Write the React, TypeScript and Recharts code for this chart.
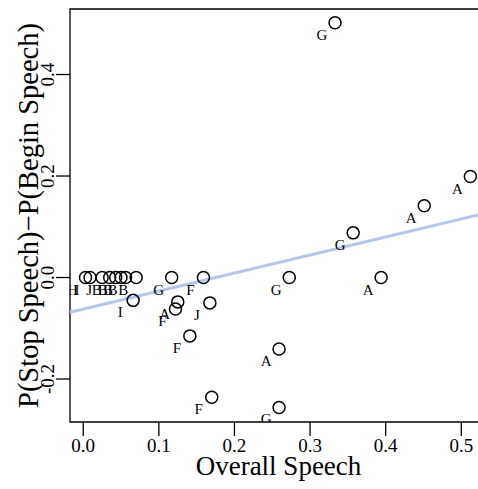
import React from 'react';
import {
  ScatterChart, Scatter, XAxis, YAxis, ReferenceLine, ReferenceArea, Label,
} from 'recharts';

// speaker code for each point
const speakerLabels = [
  'H', 'I', 'J', 'B', 'B', 'B', 'B', 'B',
  'I', 'G', 'F', 'A', 'F', 'J', 'F', 'A', 'F', 'G', 'G', 'A', 'G', 'A', 'A', 'G',
];
// overall proportion of speech
const overallSpeech = [
  0.003, 0.009, 0.025, 0.035, 0.043, 0.05, 0.056, 0.07,
  0.066, 0.117, 0.159, 0.125, 0.122, 0.1675, 0.141, 0.259, 0.17, 0.259, 0.2725, 0.394, 0.357, 0.451, 0.512, 0.333,
];
// P(stop speech) - P(begin speech)
const stopMinusBegin = [
  0, 0, 0, 0, 0, 0, 0, 0,
  -0.045, 0, 0, -0.048, -0.062, -0.05, -0.115, -0.141, -0.236, -0.256, 0, 0, 0.088, 0.1415, 0.199, 0.502,
];

const xTicks = [0, 0.1, 0.2, 0.3, 0.4, 0.5];
const yTicks = [-0.2, 0, 0.2, 0.4];

// least squares line
const fitIntercept = -0.0622;
const fitSlope = 0.355;

const X_DOMAIN: [number, number] = [-0.0175, 0.534];
const Y_DOMAIN: [number, number] = [-0.2847, 0.5291];

const FONT = '"Liberation Serif", "Times New Roman", serif';

const points = overallSpeech.map((x, i) => ({
  x,
  y: stopMinusBegin[i],
  label: speakerLabels[i],
}));

const fitLine = [
  { x: X_DOMAIN[0], y: fitIntercept + fitSlope * X_DOMAIN[0] },
  { x: X_DOMAIN[1], y: fitIntercept + fitSlope * X_DOMAIN[1] },
];

const PointShape = (props: any) => {
  const { cx, cy, payload } = props;
  return (
    <g>
      <circle cx={cx} cy={cy} r={6} fill="none" stroke="#000" strokeWidth={1.5} />
      <text
        x={cx - 13}
        y={cy + 12}
        textAnchor="middle"
        dominantBaseline="central"
        fontFamily={FONT}
        fontSize={15}
        fill="#000"
      >
        {payload.label}
      </text>
    </g>
  );
};

const YTick = (props: any) => {
  const { x, y, payload } = props;
  const cx = x - 8;
  return (
    <text
      x={cx}
      y={y}
      textAnchor="middle"
      dominantBaseline="central"
      transform={`rotate(-90, ${cx}, ${y})`}
      fontFamily={FONT}
      fontSize={19}
      fill="#000"
    >
      {payload.value.toFixed(1)}
    </text>
  );
};

export default function App() {
  return (
    <div style={{ position: 'absolute', top: 8, left: 8, width: 470, height: 481, overflow: 'hidden' }}>
      <ScatterChart
        width={489}
        height={481}
        margin={{ top: 1, right: 10, bottom: 0, left: 0 }}
      >
        <XAxis
          type="number"
          dataKey="x"
          domain={X_DOMAIN}
          ticks={xTicks}
          allowDataOverflow
          axisLine={false}
          tickLine={{ stroke: '#000', strokeWidth: 1.3 }}
          tickSize={14}
          tickMargin={3}
          tickFormatter={(v: number) => v.toFixed(1)}
          tick={{ fontSize: 19, fill: '#000', fontFamily: FONT }}
          height={67}
        >
          <Label
            content={({ viewBox }: any) => (
              <text
                x={viewBox.x + viewBox.width / 2}
                y={458}
                textAnchor="middle"
                dominantBaseline="central"
                fontFamily={FONT}
                fontSize={27}
                fill="#000"
              >
                Overall Speech
              </text>
            )}
          />
        </XAxis>
        <YAxis
          type="number"
          dataKey="y"
          domain={Y_DOMAIN}
          ticks={yTicks}
          allowDataOverflow
          axisLine={false}
          tickLine={{ stroke: '#000', strokeWidth: 1.3 }}
          tickSize={14}
          tickMargin={0}
          tick={<YTick />}
          width={62}
        >
          <Label
            content={({ viewBox }: any) => {
              const cx = 20;
              const cy = viewBox.y + viewBox.height / 2;
              return (
                <text
                  x={cx}
                  y={cy}
                  textAnchor="middle"
                  dominantBaseline="central"
                  transform={`rotate(-90, ${cx}, ${cy})`}
                  fontFamily={FONT}
                  fontSize={28.5}
                  fill="#000"
                >
                  P(Stop Speech)−P(Begin Speech)
                </text>
              );
            }}
          />
        </YAxis>
        <ReferenceArea
          x1={X_DOMAIN[0]}
          x2={X_DOMAIN[1]}
          y1={Y_DOMAIN[0]}
          y2={Y_DOMAIN[1]}
          fill="none"
          stroke="#000"
          strokeWidth={1.3}
          ifOverflow="visible"
        />
        <ReferenceLine
          segment={fitLine}
          stroke="#b4c6ea"
          strokeWidth={3}
          ifOverflow="visible"
        />
        <Scatter
          data={points}
          shape={<PointShape />}
          isAnimationActive={false}
        />
      </ScatterChart>
    </div>
  );
}
